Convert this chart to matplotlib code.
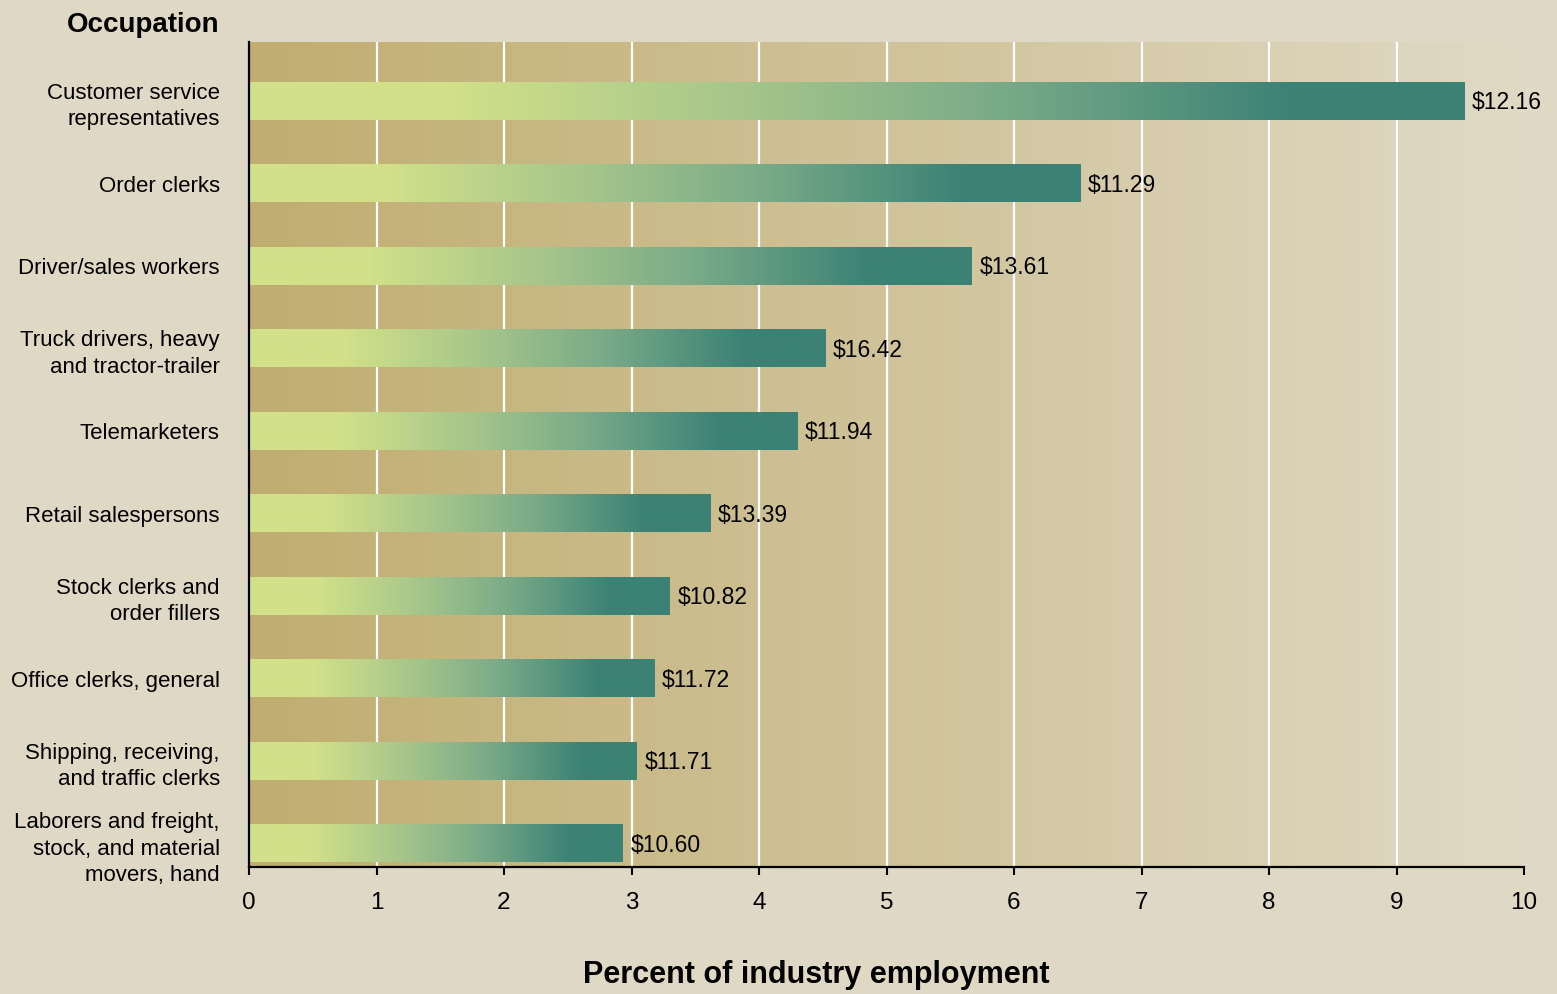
import numpy as np
import matplotlib.pyplot as plt
from matplotlib.colors import LinearSegmentedColormap

plt.rcParams['font.family'] = ['Liberation Sans', 'DejaVu Sans']

# Occupations, share of industry employment and median hourly wage
occupations = [
    "Customer service\nrepresentatives",
    "Order clerks",
    "Driver/sales workers",
    "Truck drivers, heavy\nand tractor-trailer",
    "Telemarketers",
    "Retail salespersons",
    "Stock clerks and\norder fillers",
    "Office clerks, general",
    "Shipping, receiving,\nand traffic clerks",
    "Laborers and freight,\nstock, and material\nmovers, hand",
]
percent = [9.53, 6.52, 5.67, 4.52, 4.30, 3.62, 3.30, 3.18, 3.04, 2.93]
wages = ["$12.16", "$11.29", "$13.61", "$16.42", "$11.94",
         "$13.39", "$10.82", "$11.72", "$11.71", "$10.60"]
xticks = list(range(0, 11))

bg = '#dfd8c5'
bar_cmap = LinearSegmentedColormap.from_list('bar', [
    (0.0, '#d2e189'), (0.16, '#d2e189'), (0.40, '#a7c68b'),
    (0.62, '#79aa88'), (0.86, '#3b8275'), (1.0, '#3b8275')])
back_cmap = LinearSegmentedColormap.from_list('back', ['#c0ad6f', '#e0d9c5'])

fig = plt.figure(figsize=(15.57, 9.94), dpi=100, facecolor=bg)
ax = fig.add_axes([249 / 1557, 127 / 994, 1275 / 1557, 825 / 994])

y = np.arange(len(occupations))
h = 0.45
ylims = (len(occupations) - 1 + 0.28, -0.715)

# gradient backdrop of the plotting area
grad = np.linspace(0, 1, 256).reshape(1, -1)
ax.imshow(grad, cmap=back_cmap, aspect='auto',
          extent=(0, 10, ylims[0], ylims[1]), zorder=0)

for xv in xticks[1:-1]:
    ax.axvline(xv, color='white', lw=1.6, zorder=1)

for yi, v, w in zip(y, percent, wages):
    ax.imshow(grad, cmap=bar_cmap, aspect='auto',
              extent=(0, v, yi + h / 2, yi - h / 2), zorder=2)
    ax.text(v + 0.06, yi + 0.02, w, va='center', ha='left', fontsize=16.5, zorder=3)

ax.set_xlim(0, 10)
ax.set_ylim(*ylims)
ax.set_yticks(y)
ax.set_yticklabels(occupations, fontsize=16, linespacing=1.35)
ax.tick_params(axis='y', length=0, pad=21)
ax.set_xticks(xticks)
ax.tick_params(axis='x', labelsize=17.5, length=6, width=1.5, pad=12)
for s in ['top', 'right']:
    ax.spines[s].set_visible(False)
for s in ['left', 'bottom']:
    ax.spines[s].set_linewidth(1.6)
    ax.spines[s].set_zorder(4)

fig.text(219 / 1557, 1 - 25 / 994, "Occupation", ha='right', va='center',
         fontsize=20, fontweight='bold')
fig.text(816 / 1557, 1 - 975 / 994, "Percent of industry employment",
         ha='center', va='center', fontsize=22, fontweight='bold')

fig.savefig('out.png', dpi=100, facecolor=bg)
